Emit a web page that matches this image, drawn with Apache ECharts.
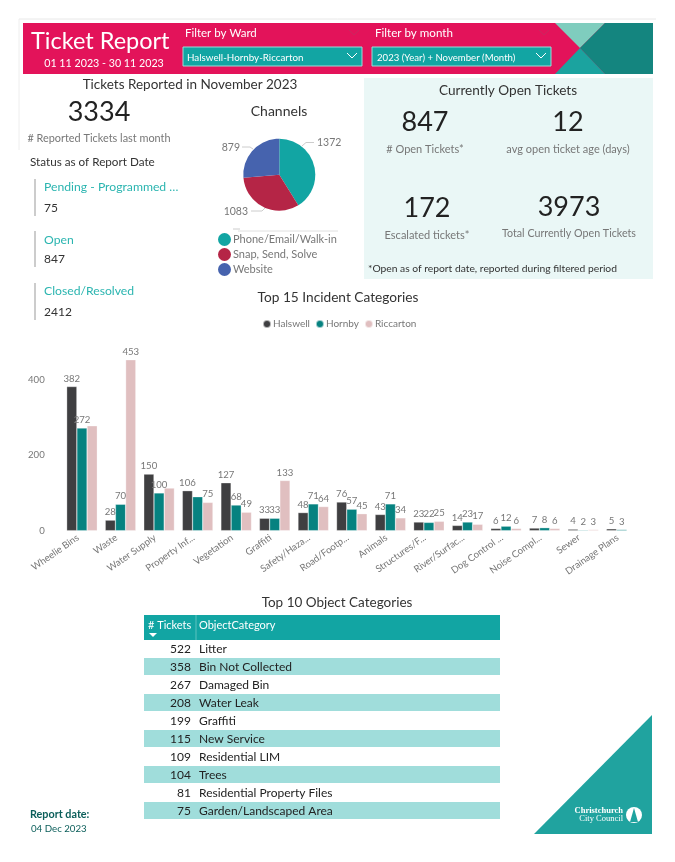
<!DOCTYPE html>
<html><head><meta charset="utf-8">
<style>html,body{margin:0;padding:0;background:#fff}#c{width:675px;height:862px}</style>
<script src="https://cdn.jsdelivr.net/npm/echarts@6/dist/echarts.min.js"></script>
</head><body><div id="c"></div>
<script>
const categories=["Wheelie Bins","Waste","Water Supply","Property Inf...","Vegetation","Graffiti","Safety/Haza...","Road/Footp...","Animals","Structures/F...","River/Surfac...","Dog Control ...","Noise Compl...","Sewer","Drainage Plans"];
const halswell=[382,28,150,106,127,33,48,76,43,23,14,6,7,4,5];
const hornby=[272,70,100,90,68,33,71,57,71,22,23,12,8,2,3];
const riccarton=[278,453,113,75,49,133,64,45,34,25,17,6,6,3,null];
const unlabelled={Riccarton:[0,2],Hornby:[3],Halswell:[]};
const channels=["Phone/Email/Walk-in","Snap, Send, Solve","Website"];
const channelValues=[1372,1083,879];
const statusNames=["Pending - Programmed …","Open","Closed/Resolved"];
const statusValues=[75,847,2412];
const objectCounts=[522,358,267,208,199,115,109,104,81,75];
const objectNames=["Litter","Bin Not Collected","Damaged Bin","Water Leak","Graffiti","New Service","Residential LIM","Trees","Residential Property Files","Garden/Landscaped Area"];

const F='Lato,sans-serif';
const INK='#333',GREY='#777',TEAL='#12A5A3';
const T=(text,x,y,size,fill,align,extra)=>({type:'text',x,y:y+1,silent:true,style:Object.assign({text,fontSize:size,fontFamily:F,fill:fill||INK,align:align||'left',verticalAlign:'middle'},extra||{})});
const R=(x,y,w,h,fill,stroke)=>({type:'rect',silent:true,shape:{x,y,width:w,height:h},style:{fill,stroke:stroke||null,lineWidth:stroke?1:0}});
const P=(pts,fill)=>({type:'polygon',silent:true,shape:{points:pts},style:{fill}});
const L=(x1,y1,x2,y2,c,w)=>({type:'line',silent:true,shape:{x1,y1,x2,y2},style:{stroke:c,lineWidth:w||1}});
const Chev=(x,y,c)=>({type:'polyline',silent:true,shape:{points:[[x-5,y-3],[x,y+2],[x+5,y-3]]},style:{stroke:c,fill:null,lineWidth:1}});

const g=[];
g.push(L(19,19,656,19,'#e8e8e8',1),L(19,19,19,150,'#eeeeee',1));
g.push(R(23,23,630,51,'#E3135A'));
g.push(P([[555,23],[605,23],[580,48]],'#7FCDBE'));
g.push(P([[605,23],[653,23],[653,74],[605,74],[580,48]],'#14857F'));
g.push(P([[580,48],[605,74],[555,74]],'#1BA39F'));
g.push(T('Ticket Report',31,40,23.5,'#fff'));
g.push(T('01 11 2023 - 30 11 2023',104,63,10.7,'#fff','center'));
g.push(T('Filter by Ward',185,32,11.5,'#fff'),Chev(354,33,'#c9275f'));
g.push(R(183,47,179,19,TEAL,'#9adcd8'),T('Halswell-Hornby-Riccarton',187,56.5,9.8,'#fff'),Chev(352,56,'#fff'));
g.push(T('Filter by month',375,32,11.6,'#fff'),Chev(544,33,'#c9275f'));
g.push(R(372,47,179,19,TEAL,'#9adcd8'),T('2023 (Year) + November (Month)',377,56.5,9.6,'#fff'),Chev(541,56,'#fff'));

g.push(T('Tickets Reported in November 2023',190,83.5,13.5,INK,'center'));
g.push(T('3334',99,111,27,'#222','center'));
g.push(T('# Reported Tickets last month',99,137,10.9,GREY,'center'));
g.push(T('Status as of Report Date',30,161,11.7,INK));
g.push(T('Channels',279,110,14,INK,'center'));
const statusY=[187,240,291],valueY=[208,259,312],barY=[[179,216],[231,267],[283,320]];
statusNames.forEach((s,i)=>{
  g.push(L(35,barY[i][0],35,barY[i][1],'#bbbbbb',1.5));
  g.push(T(s,44,statusY[i]-1,12.2,'#2BB5B0'));
  g.push(T(String(statusValues[i]),44,valueY[i]-1,12,INK));
});
g.push(L(238,231,338,231,'#e0e0e0',1),L(233,229,240,229,'#cccccc',1));

g.push(R(364,78,289,201,'#EAF7F6'));
g.push(T('Currently Open Tickets',508,90,13.6,INK,'center'));
g.push(T('847',425,121,27,'#222','center'),T('12',568,121,27,'#222','center'));
g.push(T('# Open Tickets*',425,148,11,GREY,'center'),T('avg open ticket age (days)',568,148,11,GREY,'center'));
g.push(T('172',427,207,27,'#222','center'),T('3973',569,206,27,'#222','center'));
g.push(T('Escalated tickets*',427,234,11,GREY,'center'),T('Total Currently Open Tickets',569,233,10.7,GREY,'center'));
g.push(T('*Open as of report date, reported during filtered period',368,268,10.3,INK));

g.push(T('Top 15 Incident Categories',338,297,13.7,INK,'center'));
g.push(T('Top 10 Object Categories',337,602,13.5,INK,'center'));

g.push(R(144,615,356,25,TEAL),L(196,615,196,640,'#5cc2bf',1));
g.push(T('# Tickets',148,624,11,'#fff'),T('ObjectCategory',199,624,11,'#fff'));
g.push(P([[149,633],[157,633],[153,637]],'#fff'));
objectNames.forEach((n,i)=>{
  const y=649+i*18;
  if(i%2) g.push(R(144,y-9,356,17,'#A0DDDB'));
  g.push(T(String(objectCounts[i]),191,y-1,12,'#222','right'));
  g.push(T(n,199,y-1,12,'#222'));
});

g.push(T('Report date:',30,814,10.8,'#0B5E5A','left',{fontWeight:'bold'}));
g.push(T('04 Dec 2023',31,828,9.7,'#0B5E5A'));
g.push(P([[534,834],[652,834],[652,715]],'#20A39F'));
g.push(T('Christchurch',623,810,8.5,'#fff','right',{fontFamily:'"Liberation Serif",serif',fontWeight:'bold'}));
g.push(T('City Council',623,818,8.5,'#fff','right',{fontFamily:'"Liberation Serif",serif'}));
g.push({type:'circle',silent:true,shape:{cx:634,cy:815,r:8},style:{fill:'#fff'}});
g.push(P([[634,808],[638,822],[630,822]],'#20A39F'));

const mkBar=(name,data,color)=>({
  name,type:'bar',data,barGap:0,barCategoryGap:'20.6%',
  itemStyle:{color,borderColor:'rgba(255,255,255,0.6)',borderWidth:0.5},
  label:{show:true,position:'top',distance:3,fontSize:9.6,fontFamily:F,color:GREY,
    formatter:p=>unlabelled[name].includes(p.dataIndex)?'':p.value}
});

// Label anchors of the pie, in reading order of the channels
const pieLabelAnchor=[
  {x:317,y:143,align:'left',line:[[302,146],[306,142.5],[314,142.5]]},
  {x:248,y:212,align:'right',line:[[265,208],[262,211],[251,211]]},
  {x:240,y:148,align:'right',line:[[253,149],[250,147],[242,147]]}
];

const chart=echarts.init(document.getElementById('c'),null,{renderer:'canvas'});
chart.setOption({
  animation:false,backgroundColor:'#fff',
  legend:[
    {data:channels,orient:'vertical',left:213,top:228,itemWidth:13,itemHeight:13,itemGap:2,icon:'circle',
     textStyle:{fontFamily:F,fontSize:11,color:GREY,padding:[0,0,0,-3]}},
    {data:['Halswell','Hornby','Riccarton'],left:257,top:314,itemWidth:8,itemHeight:8,itemGap:5,icon:'circle',
     textStyle:{fontFamily:F,fontSize:10,color:GREY,padding:[0,0,0,-3]}}
  ],
  grid:{left:62.7,right:34,top:342,bottom:331.3,containLabel:false},
  xAxis:{type:'category',data:categories,axisLine:{show:false},axisTick:{show:false},
    axisLabel:{interval:0,rotate:35,fontSize:9.6,fontFamily:F,color:GREY,margin:3,padding:[0,5,0,0]}},
  yAxis:{type:'value',min:0,max:500,interval:200,splitLine:{show:false},axisLine:{show:false},axisTick:{show:false},
    axisLabel:{fontSize:9.6,fontFamily:F,color:GREY,margin:18,showMaxLabel:false}},
  series:[
    mkBar('Halswell',halswell,'#3F3F41'),
    mkBar('Hornby',hornby,'#068280'),
    mkBar('Riccarton',riccarton,'#E0BFC0'),
    {type:'pie',center:[279.3,174.7],radius:[0,36],startAngle:90,clockwise:true,
     data:channels.map((n,i)=>({name:n,value:channelValues[i]})),
     color:[TEAL,'#B52546','#4663AE'],
     label:{formatter:'{c}',fontSize:10.5,fontFamily:F,color:GREY},
     labelLine:{show:true,lineStyle:{color:'#cccccc',width:1}},
     labelLayout:p=>{const a=pieLabelAnchor[p.dataIndex];return {x:a.x,y:a.y,align:a.align,verticalAlign:'middle',labelLinePoints:a.line};},
     itemStyle:{borderWidth:0}}
  ],
  graphic:{elements:g}
});
</script></body></html>
